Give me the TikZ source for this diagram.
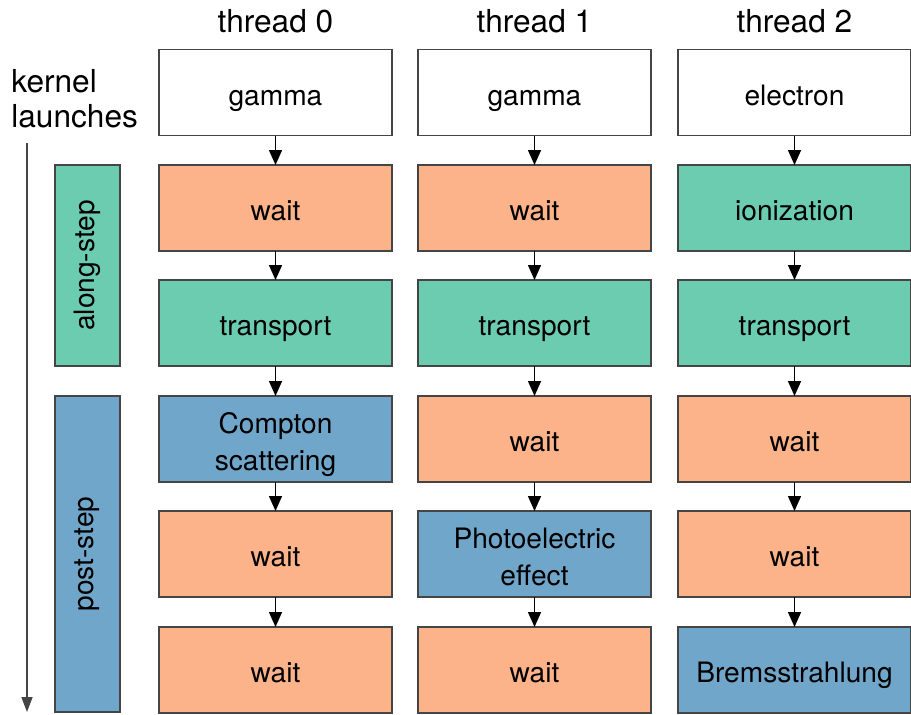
\documentclass[tikz,border=0pt]{standalone}
\usepackage{fontspec}
\setmainfont{TeX Gyre Heros}
\usepackage{tikz}
\usetikzlibrary{arrows.meta,positioning}
\definecolor{WaitOrange}{HTML}{FDB38A}
\definecolor{AlongGreen}{HTML}{6CCCB0}
\definecolor{PostBlue}{HTML}{70A6CA}
\definecolor{EdgeGray}{HTML}{454545}

\begin{document}
\begin{tikzpicture}[
box/.style={draw=EdgeGray,line width=0.8pt,fill=white,minimum width=4.66cm,minimum height=1.72cm,outer sep=0pt,align=center,text height=18.4pt,text depth=4pt,font=\fontsize{16}{21}\selectfont},
twoline/.style={text height=36pt,text depth=0.4pt},
wait/.style={box,fill=WaitOrange},
along/.style={box,fill=AlongGreen},
post/.style={box,fill=PostBlue},
phase/.style={draw=EdgeGray,line width=0.8pt,minimum height=1.3cm,outer sep=0pt,rotate=90,font=\fontsize{16}{18}\selectfont},
arr/.style={-{Triangle[length=3mm,width=2.6mm]},line width=0.8pt,draw=black},
time/.style={-{Triangle[length=3mm,width=2.2mm]},line width=0.9pt,draw=EdgeGray},
head/.style={font=\fontsize{18}{21}\selectfont}
]
\useasboundingbox (0,0) rectangle (18.22,-14.28);
% column headings
\node[head] (th0) at (5.51,-0.42) {thread 0};
\node[head] (th1) at (10.69,-0.42) {thread 1};
\node[head] (th2) at (15.89,-0.42) {thread 2};
% time axis
\node[anchor=west,align=left,inner sep=0pt,font=\fontsize{18}{20}\selectfont] (kl) at (0.22,-1.98) {kernel\\launches};
\coordinate (ttop) at (0.54,-2.86);
\coordinate (tbot) at (0.54,-14.24);
\draw[time] (ttop) -- (tbot);
% phases
\node[phase,fill=AlongGreen,minimum width=4.02cm] (alongstep) at (1.75,-5.31) {along-step};
\node[phase,fill=PostBlue,minimum width=6.32cm] (poststep) at (1.75,-11.08) {post-step};
% thread 0
\node[box] (part0) at (5.51,-1.85) {gamma};
\node[wait] (along0) at (5.51,-4.16) {wait};
\node[along] (trans0) at (5.51,-6.46) {transport};
\node[post,twoline] (posta0) at (5.51,-8.78) {Compton\\scattering};
\node[wait] (postb0) at (5.51,-11.08) {wait};
\node[wait] (postc0) at (5.51,-13.4) {wait};
% thread 1
\node[box] (part1) at (10.69,-1.85) {gamma};
\node[wait] (along1) at (10.69,-4.16) {wait};
\node[along] (trans1) at (10.69,-6.46) {transport};
\node[wait] (posta1) at (10.69,-8.78) {wait};
\node[post,twoline] (postb1) at (10.69,-11.08) {Photoelectric\\effect};
\node[wait] (postc1) at (10.69,-13.4) {wait};
% thread 2
\node[box] (part2) at (15.89,-1.85) {electron};
\node[along] (along2) at (15.89,-4.16) {ionization};
\node[along] (trans2) at (15.89,-6.46) {transport};
\node[wait] (posta2) at (15.89,-8.78) {wait};
\node[wait] (postb2) at (15.89,-11.08) {wait};
\node[post] (postc2) at (15.89,-13.4) {Bremsstrahlung};
\draw[arr] (part0) -- (along0);
\draw[arr] (along0) -- (trans0);
\draw[arr] (trans0) -- (posta0);
\draw[arr] (posta0) -- (postb0);
\draw[arr] (postb0) -- (postc0);
\draw[arr] (part1) -- (along1);
\draw[arr] (along1) -- (trans1);
\draw[arr] (trans1) -- (posta1);
\draw[arr] (posta1) -- (postb1);
\draw[arr] (postb1) -- (postc1);
\draw[arr] (part2) -- (along2);
\draw[arr] (along2) -- (trans2);
\draw[arr] (trans2) -- (posta2);
\draw[arr] (posta2) -- (postb2);
\draw[arr] (postb2) -- (postc2);
\end{tikzpicture}
\end{document}
